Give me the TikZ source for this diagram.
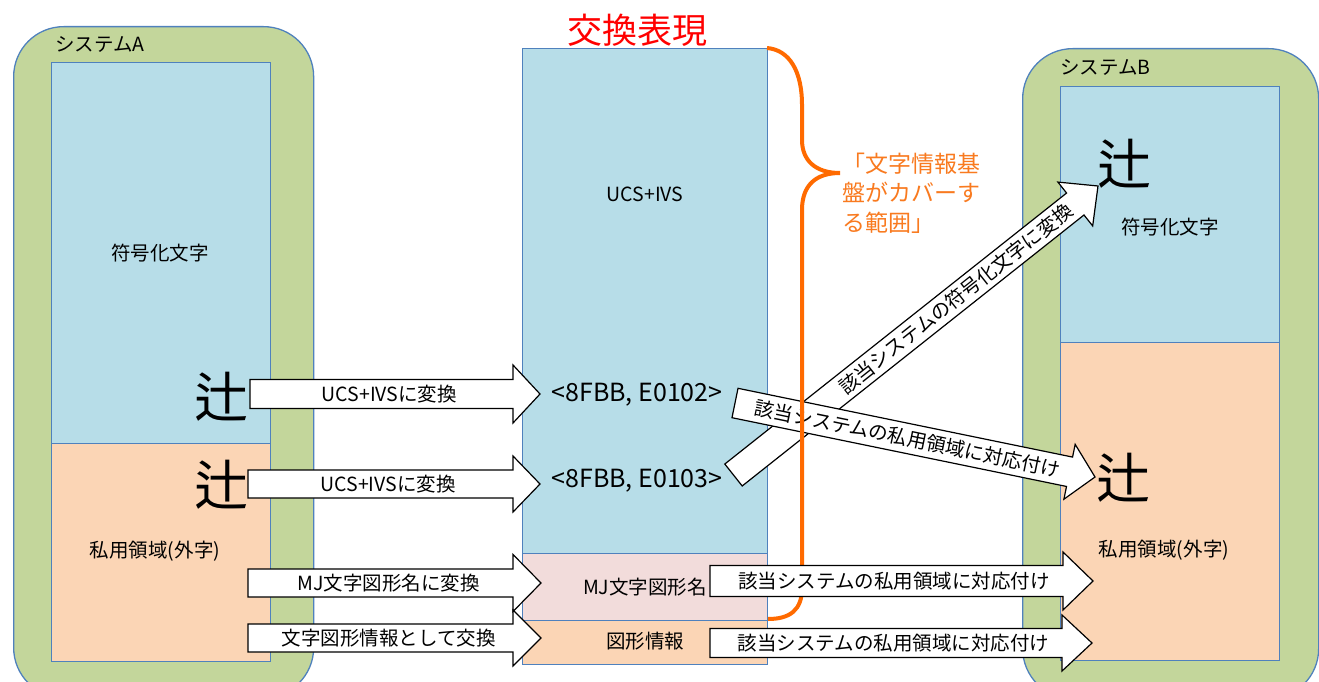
\documentclass[tikz,border=0pt]{standalone}
\usepackage{fontspec}
\setmainfont{Noto Sans CJK JP}
\usetikzlibrary{calc}
\definecolor{sysgreen}{HTML}{C3D69B}
\definecolor{bordblue}{HTML}{4F81BD}
\definecolor{codeblue}{HTML}{B7DDE8}
\definecolor{peach}{HTML}{FBD5B5}
\definecolor{pinkbox}{HTML}{F2DCDB}
\definecolor{bracecol}{HTML}{FF6A00}
\definecolor{labelcol}{HTML}{F97A1F}
\newcommand{\myblockarrow}[5]{%
  \coordinate (#1h) at ($(#2)!#5!(#1)$);
  \draw[barrow] ($(#1)!#3!90:(#2)$) -- ($(#1h)!#3!90:(#2)$) -- ($(#1h)!#4!90:(#2)$) -- (#2)
    -- ($(#1h)!#4!-90:(#2)$) -- ($(#1h)!#3!-90:(#2)$) -- ($(#1)!#3!-90:(#2)$) -- cycle;}
\begin{document}
\begin{tikzpicture}[x=1pt,y=-1pt,
  sysbox/.style={draw=bordblue, line width=1.3pt, fill=sysgreen, rounded corners=50pt, inner sep=0pt, anchor=north west},
  areabox/.style={draw=bordblue, line width=1pt, inner sep=0pt, anchor=north west},
  txt/.style={inner sep=0pt, font=\fontsize{19.5}{23}\selectfont},
  bigchar/.style={inner sep=0pt, font=\fontsize{54}{60}\selectfont},
  codetxt/.style={inner sep=0pt, font=\fontsize{25}{29}\selectfont},
  barrow/.style={draw=black, line width=1.2pt, fill=white, line join=miter},
  brace/.style={draw=bracecol, line width=4pt},
]
\useasboundingbox (0,0) rectangle (1319,682);
\clip (0,0) rectangle (1319,682);
\fill[white] (0,0) rectangle (1319,682);

% system A
\node[sysbox, minimum width=300pt, minimum height=671pt] (sysA) at (13,26) {};
\node[areabox, fill=codeblue, minimum width=219pt, minimum height=381pt] (aCode) at (51,62) {};
\node[areabox, fill=peach, minimum width=219pt, minimum height=218pt] (aPriv) at (51,443) {};
\node[txt, anchor=west] (aLabel) at (55,44) {システムA};
\node[txt] (aCodeT) at (160,253) {符号化文字};
\node[txt] (aPrivT) at (155,551) {私用領域(外字)};
\node[bigchar] (aChar1) at (221,397) {辻};
\node[bigchar] (aChar2) at (221,485) {辻};

% system B
\node[sysbox, minimum width=296pt, minimum height=650pt] (sysB) at (1022,48) {};
\node[areabox, fill=codeblue, minimum width=219pt, minimum height=256pt] (bCode) at (1060,86) {};
\node[areabox, fill=peach, minimum width=219pt, minimum height=318pt] (bPriv) at (1060,342) {};
\node[txt, anchor=west] (bLabel) at (1060,67) {システムB};
\node[txt] (bCodeT) at (1170,227) {符号化文字};
\node[txt] (bPrivT) at (1164,550) {私用領域(外字)};
\node[bigchar] (bChar1) at (1124,164) {辻};
\node[bigchar] (bChar2) at (1123,478) {辻};

% exchange representation
\node[areabox, fill=codeblue, minimum width=245pt, minimum height=505pt] (cUcs) at (522,48) {};
\node[areabox, fill=pinkbox, minimum width=245pt, minimum height=67pt] (cMj) at (522,553) {};
\node[areabox, fill=peach, minimum width=245pt, minimum height=44pt] (cFig) at (522,620) {};
\node[inner sep=0pt, text=red, font=\fontsize{35}{40}\selectfont] (title) at (637,30) {交換表現};
\node[txt] (ucsT) at (645,194) {UCS+IVS};
\node[codetxt] (code2) at (637,395) {<8FBB, E0102>};
\node[codetxt] (code3) at (637,481) {<8FBB, E0103>};
\node[txt] (mjT) at (645,587) {MJ文字図形名};
\node[txt] (figT) at (645,641) {図形情報};

% diagonal arrows
\coordinate (d1t) at (733.5,475);
\coordinate (d1p) at (1098,186);
\myblockarrow{d1t}{d1p}{14pt}{28pt}{29pt}
\path (d1t) -- (d1p) node[txt, pos=0.61, sloped] {該当システムの符号化文字に変換};
\coordinate (d2t) at (735,403);
\coordinate (d2p) at (1095,477);
\myblockarrow{d2t}{d2p}{15pt}{28pt}{26pt}
\path (d2t) -- (d2p) node[txt, pos=0.48, sloped] {該当システムの私用領域に対応付け};

% brace
\draw[brace] (767,48) .. controls (790,50) and (802,72) .. (802,105) -- (802,140)
  .. controls (802,160) and (815,173) .. (840,173)
  .. controls (815,173) and (802,186) .. (802,210) -- (802,588)
  .. controls (802,610) and (790,619) .. (768,619);
\node[anchor=west, align=left, inner sep=0pt, text=labelcol, font=\fontsize{23}{29.5}\selectfont] (cover) at (842,193) {「文字情報基\\盤がカバーす\\る範囲」};

% horizontal arrows
\coordinate (a1t) at (250,394);
\coordinate (a1p) at (540,394);
\myblockarrow{a1t}{a1p}{14.5pt}{29pt}{27pt}
\path (a1t) -- (a1p) node[txt, pos=0.48] {UCS+IVSに変換};
\coordinate (a2t) at (248,484);
\coordinate (a2p) at (540,484);
\myblockarrow{a2t}{a2p}{14pt}{28pt}{27pt}
\path (a2t) -- (a2p) node[txt, pos=0.48] {UCS+IVSに変換};
\coordinate (a3t) at (248,583);
\coordinate (a3p) at (541,583);
\myblockarrow{a3t}{a3p}{14pt}{28.5pt}{28pt}
\path (a3t) -- (a3p) node[txt, pos=0.48] {MJ文字図形名に変換};
\coordinate (a4t) at (248,638);
\coordinate (a4p) at (541,638);
\myblockarrow{a4t}{a4p}{14pt}{28pt}{28pt}
\path (a4t) -- (a4p) node[txt, pos=0.48] {文字図形情報として交換};
\coordinate (r1t) at (710,581);
\coordinate (r1p) at (1093,581);
\myblockarrow{r1t}{r1p}{15.5pt}{29pt}{30pt}
\path (r1t) -- (r1p) node[txt, pos=0.48] {該当システムの私用領域に対応付け};
\coordinate (r2t) at (710,643);
\coordinate (r2p) at (1092,643);
\myblockarrow{r2t}{r2p}{14.5pt}{28pt}{30pt}
\path (r2t) -- (r2p) node[txt, pos=0.48] {該当システムの私用領域に対応付け};
\end{tikzpicture}
\end{document}
